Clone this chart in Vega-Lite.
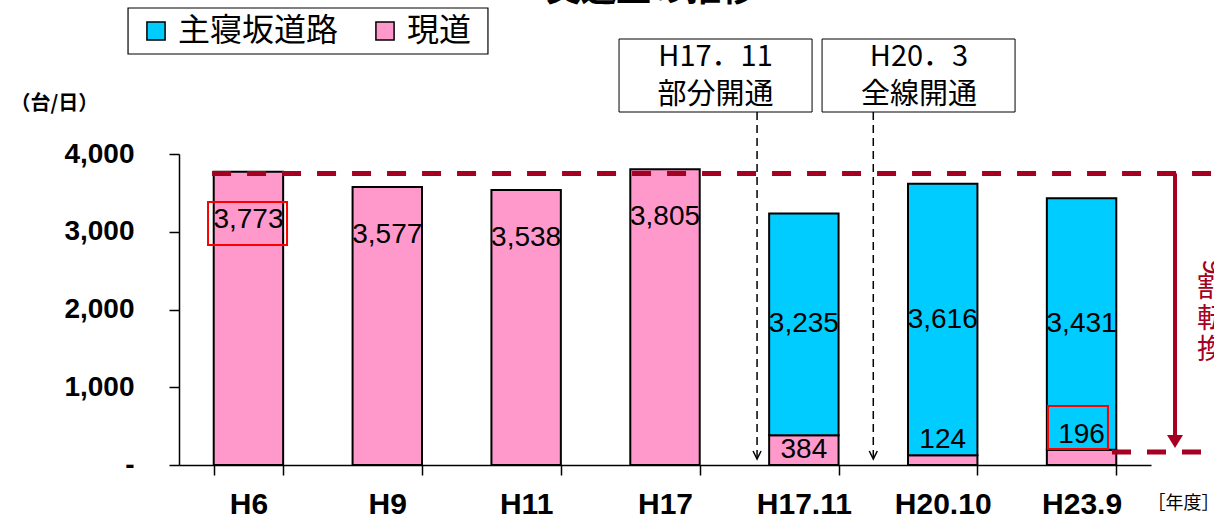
{
  "$schema": "https://vega.github.io/schema/vega-lite/v6.json",
  "width": 972,
  "height": 311,
  "autosize": {"type": "none"},
  "padding": {"left": 179, "top": 154, "right": 63, "bottom": 58},
  "background": "white",
  "config": {"view": {"stroke": null}, "font": "Liberation Sans"},
  "layer": [
    {
      "data": {
        "values": [
          {"year": "H6", "road": "現道", "value": 3773},
          {"year": "H9", "road": "現道", "value": 3577},
          {"year": "H11", "road": "現道", "value": 3538},
          {"year": "H17", "road": "現道", "value": 3805},
          {"year": "H17.11", "road": "現道", "value": 384},
          {"year": "H17.11", "road": "主寝坂道路", "value": 2851},
          {"year": "H20.10", "road": "現道", "value": 124},
          {"year": "H20.10", "road": "主寝坂道路", "value": 3492},
          {"year": "H23.9", "road": "現道", "value": 196},
          {"year": "H23.9", "road": "主寝坂道路", "value": 3235}
        ]
      },
      "encoding": {
        "x": {
          "field": "year",
          "type": "nominal",
          "sort": ["H6", "H9", "H11", "H17", "H17.11", "H20.10", "H23.9"],
          "scale": {"paddingInner": 0.5, "paddingOuter": 0.25},
          "axis": {
            "title": "［年度］",
            "titleX": 1004,
            "titleY": 38,
            "titleAlign": "center",
            "titleBaseline": "middle",
            "titleFontSize": 18,
            "titleFontWeight": "normal",
            "titleFont": "Noto Sans CJK JP",
            "titleColor": "black",
            "labelAngle": 0,
            "labelFont": "Liberation Sans",
            "labelFontWeight": "bold",
            "labelFontSize": 30,
            "labelPadding": 14,
            "labelColor": "black",
            "tickSize": 10,
            "tickBand": "extent",
            "tickColor": "black",
            "tickWidth": 1.5,
            "domainColor": "black",
            "domainWidth": 1.5
          }
        }
      },
      "layer": [
        {
          "mark": {"type": "bar", "stroke": "black", "strokeWidth": 2},
          "encoding": {
            "y": {
              "field": "value",
              "type": "quantitative",
              "stack": "zero",
              "scale": {"domain": [0, 4000], "nice": false},
              "axis": {
                "title": "（台/日）",
                "titleAngle": 0,
                "titleAlign": "left",
                "titleBaseline": "middle",
                "titleX": -169,
                "titleY": -51,
                "titleFontSize": 20,
                "titleFontWeight": "bold",
                "titleFont": "Noto Sans CJK JP",
                "titleColor": "black",
                "values": [0, 1000, 2000, 3000, 4000],
                "labelExpr": "datum.value === 0 ? '-' : format(datum.value, ',')",
                "labelFont": "Liberation Sans",
                "labelFontWeight": "bold",
                "labelFontSize": 28,
                "labelPadding": 35,
                "labelColor": "black",
                "tickSize": 10,
                "tickColor": "black",
                "tickWidth": 1.5,
                "domainColor": "black",
                "domainWidth": 1.5,
                "grid": false
              }
            },
            "color": {
              "field": "road",
              "type": "nominal",
              "scale": {"domain": ["主寝坂道路", "現道"], "range": ["#00CCFF", "#FF99CC"]},
              "legend": {
                "title": null,
                "orient": "none",
                "legendX": -39,
                "legendY": -139,
                "direction": "horizontal",
                "symbolType": "square",
                "symbolSize": 330,
                "symbolStrokeColor": "black",
                "symbolStrokeWidth": 1.5,
                "symbolOpacity": 1,
                "labelFontSize": 32,
                "labelFont": "Noto Sans CJK JP",
                "labelColor": "black",
                "labelLimit": 0,
                "labelOffset": 6,
                "columnPadding": 30,
                "padding": 0
              }
            },
            "order": {"field": "road", "sort": "descending"}
          }
        },
        {
          "transform": [
            {"filter": "datum.road === '現道' && indexof(['H6','H9','H11','H17'], datum.year) >= 0"}
          ],
          "mark": {"type": "text", "baseline": "middle", "dy": 48, "fontSize": 28, "font": "Liberation Sans", "color": "black"},
          "encoding": {
            "y": {"field": "value", "type": "quantitative"},
            "text": {"field": "value", "type": "quantitative", "format": ","}
          }
        },
        {
          "transform": [
            {"stack": "value", "groupby": ["year"], "sort": [{"field": "road", "order": "descending"}], "as": ["y0", "y1"]},
            {"filter": "datum.road === '主寝坂道路'"},
            {"calculate": "(datum.y0 + datum.y1) / 2", "as": "mid"}
          ],
          "mark": {"type": "text", "baseline": "middle", "fontSize": 28, "font": "Liberation Sans", "color": "black"},
          "encoding": {
            "y": {"field": "mid", "type": "quantitative"},
            "text": {"field": "y1", "type": "quantitative", "format": ","}
          }
        },
        {
          "transform": [
            {"filter": "datum.road === '現道' && datum.year === 'H17.11'"},
            {"calculate": "datum.value / 2", "as": "mid"}
          ],
          "mark": {"type": "text", "baseline": "middle", "fontSize": 28, "font": "Liberation Sans", "color": "black"},
          "encoding": {
            "y": {"field": "mid", "type": "quantitative"},
            "text": {"field": "value", "type": "quantitative", "format": ","}
          }
        },
        {
          "transform": [
            {"filter": "datum.road === '現道' && (datum.year === 'H20.10' || datum.year === 'H23.9')"}
          ],
          "mark": {"type": "text", "baseline": "bottom", "dy": -1, "fontSize": 28, "font": "Liberation Sans", "color": "black"},
          "encoding": {
            "y": {"field": "value", "type": "quantitative"},
            "text": {"field": "value", "type": "quantitative", "format": ","}
          }
        }
      ]
    },
    {
      "data": {"values": [{}]},
      "layer": [
        {
          "mark": {"type": "rect", "fill": "white", "stroke": "black", "strokeWidth": 1.2},
          "encoding": {
            "x": {"datum": -0.367, "type": "quantitative", "scale": {"domain": [0, 7], "nice": false, "zero": false}, "axis": null},
            "x2": {"datum": 2.225},
            "y": {"datum": 5878, "type": "quantitative"},
            "y2": {"datum": 5286}
          }
        },
        {
          "mark": {"type": "text", "fontSize": 35, "fontWeight": "bold", "font": "Noto Sans CJK JP", "baseline": "alphabetic", "align": "center", "color": "black"},
          "encoding": {
            "x": {"datum": 3.399, "type": "quantitative", "axis": null},
            "y": {"datum": 5968, "type": "quantitative"},
            "text": {"value": "交通量の推移"}
          }
        },
        {
          "mark": {"type": "rect", "fill": "white", "stroke": "black", "strokeWidth": 1},
          "encoding": {
            "x": {"datum": 3.169, "type": "quantitative", "axis": null},
            "x2": {"datum": 4.559},
            "y": {"datum": 5479, "type": "quantitative"},
            "y2": {"datum": 4540}
          }
        },
        {
          "mark": {"type": "rect", "fill": "white", "stroke": "black", "strokeWidth": 1},
          "encoding": {
            "x": {"datum": 4.631, "type": "quantitative", "axis": null},
            "x2": {"datum": 6.021},
            "y": {"datum": 5479, "type": "quantitative"},
            "y2": {"datum": 4540}
          }
        },
        {
          "mark": {"type": "text", "fontSize": 29, "font": "Noto Sans CJK JP", "baseline": "middle", "align": "center", "lineHeight": 38, "color": "black"},
          "encoding": {
            "x": {"datum": 3.864, "type": "quantitative", "axis": null},
            "y": {"datum": 5248, "type": "quantitative"},
            "text": {"value": ["H17．11", "部分開通"]}
          }
        },
        {
          "mark": {"type": "text", "fontSize": 29, "font": "Noto Sans CJK JP", "baseline": "middle", "align": "center", "lineHeight": 38, "color": "black"},
          "encoding": {
            "x": {"datum": 5.329, "type": "quantitative", "axis": null},
            "y": {"datum": 5248, "type": "quantitative"},
            "text": {"value": ["H20．3", "全線開通"]}
          }
        },
        {
          "mark": {"type": "rule", "stroke": "black", "strokeWidth": 1.5, "strokeDash": [8, 5]},
          "encoding": {
            "x": {"datum": 4.163, "type": "quantitative", "axis": null},
            "y": {"datum": 4540, "type": "quantitative"},
            "y2": {"datum": 100}
          }
        },
        {
          "mark": {"type": "rule", "stroke": "black", "strokeWidth": 1.5, "strokeDash": [8, 5]},
          "encoding": {
            "x": {"datum": 5.0, "type": "quantitative", "axis": null},
            "y": {"datum": 4540, "type": "quantitative"},
            "y2": {"datum": 100}
          }
        },
        {
          "mark": {"type": "point", "shape": "M-1,-1L0,1L1,-1", "filled": false, "stroke": "black", "strokeWidth": 1.5, "size": 64, "opacity": 1},
          "encoding": {
            "x": {"datum": 4.163, "type": "quantitative", "axis": null},
            "y": {"datum": 129, "type": "quantitative"}
          }
        },
        {
          "mark": {"type": "point", "shape": "M-1,-1L0,1L1,-1", "filled": false, "stroke": "black", "strokeWidth": 1.5, "size": 64, "opacity": 1},
          "encoding": {
            "x": {"datum": 5.0, "type": "quantitative", "axis": null},
            "y": {"datum": 129, "type": "quantitative"}
          }
        },
        {
          "mark": {"type": "rect", "filled": false, "stroke": "#FF0000", "strokeWidth": 2},
          "encoding": {
            "x": {"datum": 0.209, "type": "quantitative", "axis": null},
            "x2": {"datum": 0.778},
            "y": {"datum": 3383, "type": "quantitative"},
            "y2": {"datum": 2830}
          }
        },
        {
          "mark": {"type": "rect", "filled": false, "stroke": "#FF0000", "strokeWidth": 2},
          "encoding": {
            "x": {"datum": 6.258, "type": "quantitative", "axis": null},
            "x2": {"datum": 6.69},
            "y": {"datum": 759, "type": "quantitative"},
            "y2": {"datum": 206}
          }
        },
        {
          "mark": {"type": "rule", "stroke": "#A50021", "strokeWidth": 5, "strokeDash": [19, 16]},
          "encoding": {
            "x": {"datum": 0.238, "type": "quantitative", "axis": null},
            "x2": {"datum": 7.6},
            "y": {"datum": 3750, "type": "quantitative"}
          }
        },
        {
          "mark": {"type": "rule", "stroke": "#A50021", "strokeWidth": 5, "strokeDash": [19, 16]},
          "encoding": {
            "x": {"datum": 6.719, "type": "quantitative", "axis": null},
            "x2": {"datum": 7.6},
            "y": {"datum": 167, "type": "quantitative"}
          }
        },
        {
          "mark": {"type": "rule", "stroke": "#A50021", "strokeWidth": 4},
          "encoding": {
            "x": {"datum": 7.173, "type": "quantitative", "axis": null},
            "y": {"datum": 3750, "type": "quantitative"},
            "y2": {"datum": 330}
          }
        },
        {
          "mark": {"type": "point", "shape": "M-1,-0.8L1,-0.8L0,0.8Z", "filled": true, "color": "#A50021", "size": 256, "opacity": 1},
          "encoding": {
            "x": {"datum": 7.173, "type": "quantitative", "axis": null},
            "y": {"datum": 302, "type": "quantitative"}
          }
        },
        {
          "mark": {"type": "text", "fontSize": 28, "font": "Noto Sans CJK JP", "baseline": "middle", "align": "center", "angle": 90, "color": "#A50021"},
          "encoding": {
            "x": {"datum": 7.432, "type": "quantitative", "axis": null},
            "y": {"datum": 2547, "type": "quantitative"},
            "text": {"value": "9"}
          }
        },
        {
          "mark": {"type": "text", "fontSize": 28, "font": "Noto Sans CJK JP", "baseline": "middle", "align": "center", "lineHeight": 31, "color": "#A50021"},
          "encoding": {
            "x": {"datum": 7.432, "type": "quantitative", "axis": null},
            "y": {"datum": 2264, "type": "quantitative"},
            "text": {"value": ["割", "転", "換"]}
          }
        }
      ]
    }
  ],
  "resolve": {"scale": {"x": "independent"}}
}
